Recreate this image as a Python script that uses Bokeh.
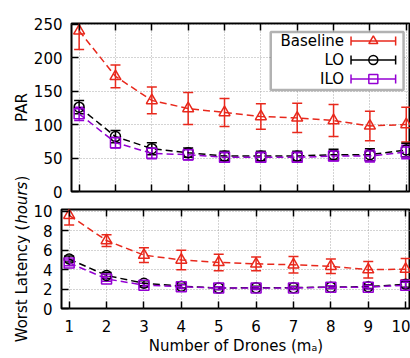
from math import pi
from bokeh.plotting import figure
from bokeh.models import (Range1d, Whisker, TeeHead, ColumnDataSource, LinearAxis,
                          FixedTicker, BoxAnnotation, Label, CustomJSTickFormatter)
from bokeh.layouts import column, row
from bokeh.embed import file_html
from bokeh.resources import INLINE
from bokeh.core.properties import value

# ---------------- data ----------------
drones = [1, 2, 3, 4, 5, 6, 7, 8, 9, 10]

par_baseline = [240, 172, 136, 124, 118, 112, 110, 106, 98, 100]
par_baseline_err = [28, 17, 20, 24, 21, 19, 22, 24, 22, 26]
par_lo = [126, 82, 64, 58, 53, 53, 53, 55, 55, 62]
par_lo_err = [10, 9, 9, 7, 7, 7, 7, 8, 9, 10]
par_ilo = [116, 73, 57, 55, 51, 51, 51, 53, 53, 59]
par_ilo_err = [10, 8, 8, 8, 7, 7, 7, 7, 9, 10]

lat_baseline = [9.6, 7.0, 5.5, 5.0, 4.75, 4.6, 4.5, 4.35, 4.0, 4.05]
lat_baseline_err = [1.0, 0.6, 0.75, 1.0, 0.85, 0.7, 0.85, 0.75, 0.85, 1.1]
lat_lo = [5.1, 3.4, 2.6, 2.3, 2.1, 2.15, 2.15, 2.2, 2.25, 2.5]
lat_lo_err = [0.3, 0.3, 0.25, 0.2, 0.15, 0.15, 0.15, 0.15, 0.2, 0.3]
lat_ilo = [4.7, 3.05, 2.4, 2.25, 2.1, 2.1, 2.1, 2.2, 2.2, 2.4]
lat_ilo_err = [0.3, 0.25, 0.2, 0.2, 0.15, 0.15, 0.15, 0.15, 0.2, 0.3]

series_names = ["Baseline", "LO", "ILO"]
colors = ["#e8281c", "#000000", "#9400d3"]
markers = ["triangle", "circle", "square"]

par_ticks = [0, 50, 100, 150, 200, 250]
lat_ticks = [0, 2, 4, 6, 8, 10]

FONT = "DejaVu Sans"
FS = "15px"
LABW = 30  # width of the column holding the y-axis titles


def style_axis(ax, labels=True):
    ax.axis_line_color = None
    ax.major_tick_in = 7
    ax.major_tick_out = 0
    ax.major_tick_line_width = 1.5
    ax.major_tick_line_color = "black"
    ax.minor_tick_line_color = None
    ax.major_label_text_font = FONT
    ax.major_label_text_font_size = FS
    ax.major_label_text_color = "black"
    ax.axis_label_text_font = FONT
    ax.axis_label_text_font_size = FS
    ax.axis_label_text_font_style = "normal"
    ax.axis_label_text_color = "black"
    if not labels:
        ax.formatter = CustomJSTickFormatter(code="return ''")
        ax.major_label_standoff = 0


def style(p, yticks, xlabels):
    xb = p.below[0]
    yl = p.left[0]
    xb.ticker = FixedTicker(ticks=drones)
    yl.ticker = FixedTicker(ticks=yticks)
    style_axis(xb, xlabels)
    style_axis(yl, True)
    yl.major_label_standoff = 9
    p.grid.grid_line_color = "#a8a8a8"
    p.grid.grid_line_dash = "1 2"
    p.grid.grid_line_width = 1
    p.outline_line_color = "black"
    p.outline_line_width = 2
    p.background_fill_color = "white"
    p.border_fill_color = "white"
    top = LinearAxis(ticker=FixedTicker(ticks=drones))
    style_axis(top, False)
    p.add_layout(top, "above")
    return xb, yl


def add_series(p, ys, errs):
    for name, y, e, c, m in zip(series_names, ys, errs, colors, markers):
        src = ColumnDataSource(dict(x=drones, y=y,
                                    lower=[a - b for a, b in zip(y, e)],
                                    upper=[a + b for a, b in zip(y, e)]))
        w = Whisker(base="x", lower="lower", upper="upper", source=src,
                    line_color=c, line_width=1.5,
                    upper_head=TeeHead(size=10, line_color=c, line_width=1.5),
                    lower_head=TeeHead(size=10, line_color=c, line_width=1.5))
        p.add_layout(w)
        p.line("x", "y", source=src, line_color=c, line_width=1.5, line_dash="7 4")
        p.scatter("x", "y", source=src, marker=m, size=10 if m != "triangle" else 11,
                  line_color=c, line_width=1.5, fill_color=None)


# ---------------- top: PAR ----------------
top_x = (0.79, 10.117)
top_y = (0, 251)
p1 = figure(width=410 - LABW, height=200, output_backend="svg", toolbar_location=None,
            x_range=Range1d(*top_x), y_range=Range1d(*top_y),
            min_border_left=68 - LABW, min_border_right=0, min_border_top=23,
            min_border_bottom=9)
xb1, yl1 = style(p1, par_ticks, False)
add_series(p1, [par_baseline, par_lo, par_ilo],
           [par_baseline_err, par_lo_err, par_ilo_err])

# legend (layout in page pixels, converted to the top plot's data space)
FL, FW, FT, FH = 68, 342, 23, 168


def tx(px):
    return top_x[0] + (px - FL) / FW * (top_x[1] - top_x[0])


def ty(py):
    return top_y[1] - (py - FT) / FH * (top_y[1] - top_y[0])


box = BoxAnnotation(left=tx(269), right=tx(403), top=ty(31.5), bottom=ty(89.5),
                    fill_color="white", fill_alpha=1, line_color="black",
                    line_width=2.5, level="annotation")
p1.add_layout(box)
rows_py = [40.5, 59.5, 78.5]
leg = ColumnDataSource(dict(
    tx=[tx(343)] * 3, y=[ty(v) for v in rows_py], text=series_names,
    x0=[tx(350)] * 3, x1=[tx(395)] * 3, xm=[tx(372.5)] * 3,
    color=colors, marker=markers))
lw = Whisker(base="y", lower="x0", upper="x1", dimension="width", source=leg,
             line_color="color", line_width=1.5, level="overlay",
             upper_head=TeeHead(size=9, line_color="color", line_width=1.5),
             lower_head=TeeHead(size=9, line_color="color", line_width=1.5))
p1.add_layout(lw)
p1.scatter("xm", "y", source=leg, marker="marker", size=9, line_color="color",
           line_width=1.5, fill_color="white", level="overlay")
p1.text("tx", "y", text="text", source=leg, text_align="right", text_baseline="middle",
        text_font=value(FONT), text_font_size=FS, text_color="black", level="overlay")

# ---------------- bottom: Worst latency ----------------
p2 = figure(width=410 - LABW, height=158, output_backend="svg", toolbar_location=None,
            x_range=Range1d(0.795, 10.13), y_range=Range1d(0, 10.2),
            min_border_left=59 - LABW, min_border_right=0, min_border_top=9,
            min_border_bottom=50)
xb2, yl2 = style(p2, lat_ticks, True)
xb2.axis_label = "Number of Drones (mₐ)"
xb2.major_label_standoff = 11
xb2.axis_label_standoff = 2
add_series(p2, [lat_baseline, lat_lo, lat_ilo],
           [lat_baseline_err, lat_lo_err, lat_ilo_err])

# ---------------- y-axis titles column (page-pixel coordinates) ----------------
pt = figure(width=LABW, height=358, output_backend="svg", toolbar_location=None,
            x_range=Range1d(0, LABW), y_range=Range1d(358, 0),
            x_axis_type=None, y_axis_type=None, min_border=0)
pt.grid.visible = False
pt.outline_line_color = None
pt.border_fill_color = "white"
pt.background_fill_color = "white"


def title_part(text, x, y, style="normal"):
    pt.add_layout(Label(x=x, y=y, text=text, angle=pi / 2, text_align="left",
                        text_baseline="middle", text_font=FONT, text_font_size=FS,
                        text_font_style=style, text_color="black"))


# "PAR" centred on the top frame
pt.add_layout(Label(x=21, y=107, text="PAR", angle=pi / 2, text_align="center",
                    text_baseline="middle", text_font=FONT, text_font_size=FS,
                    text_color="black"))
# "Worst Latency (hours)" centred on the bottom frame, "hours" in italics
em = 15 / 2048
w1 = (2025 + 1253 + 842 + 1067 + 803 + 651 + 1142 + 1255 + 803 + 1260 + 1298 + 1126
      + 1212 + 651 + 799) * em
w2 = (1298 + 1253 + 1298 + 842 + 1067) * em
w3 = 799 * em
yc = 258.5
y0 = yc + (w1 + w2 + w3) / 2
title_part("Worst Latency (", 21, y0)
title_part("hours", 21, y0 - w1, "italic")
title_part(")", 21, y0 - w1 - w2)

layout = row(column(pt), column(p1, column(p2), spacing=0), spacing=0)
open("out.html", "w").write(file_html(layout, INLINE))
